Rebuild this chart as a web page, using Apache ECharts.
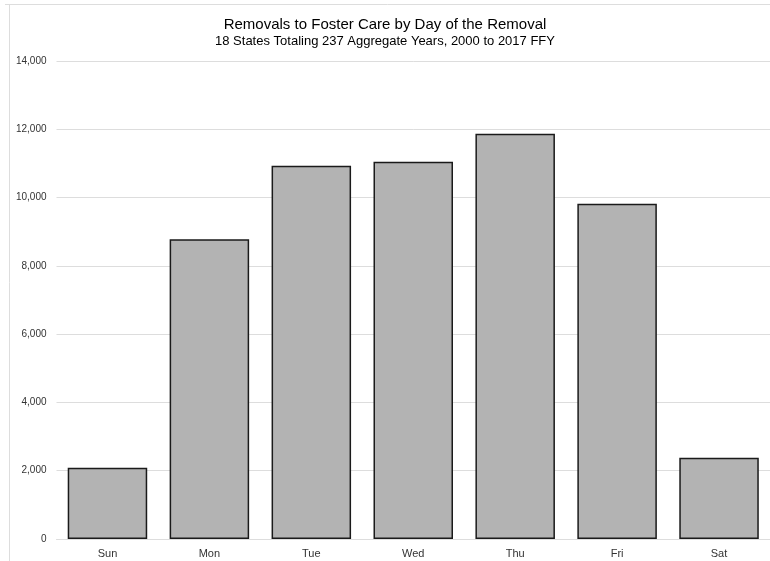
<!DOCTYPE html>
<html><head><meta charset="utf-8">
<script src="https://cdn.jsdelivr.net/npm/echarts@6/dist/echarts.min.js"></script>
<style>html,body{margin:0;padding:0;background:#fff}#c{width:770px;height:561px}</style>
</head><body><div id="c"></div>
<script>
const categories = ['Sun','Mon','Tue','Wed','Thu','Fri','Sat'];
const removals = [2090, 8780, 10930, 11050, 11870, 9820, 2380];
const titleText = 'Removals to Foster Care by Day of the Removal';
const subtitleText = '18 States Totaling 237 Aggregate Years, 2000 to 2017 FFY';

const chart = echarts.init(document.getElementById('c'));
chart.setOption({
  backgroundColor: '#fff',
  animation: false,
  title: {
    text: titleText, subtext: subtitleText, left: 'center', top: 12, itemGap: 3,
    textStyle: {fontFamily: 'Liberation Sans', fontSize: 15, fontWeight: 'normal', color: '#000'},
    subtextStyle: {fontFamily: 'Liberation Sans', fontSize: 13, color: '#000'}
  },
  graphic: [
    {type: 'line', shape: {x1: 5, y1: 4.5, x2: 770, y2: 4.5}, style: {stroke: '#ddd', lineWidth: 1}},
    {type: 'line', shape: {x1: 9.5, y1: 4, x2: 9.5, y2: 561}, style: {stroke: '#ddd', lineWidth: 1}}
  ],
  grid: {left: 56.5, right: -4.5, top: 61, bottom: 22, containLabel: false},
  xAxis: {
    type: 'category', data: categories,
    axisLine: {show: true, lineStyle: {color: '#ddd', width: 1}},
    axisTick: {show: false},
    axisLabel: {fontFamily: 'Liberation Sans', fontSize: 11, color: '#333', margin: 9}
  },
  yAxis: {
    type: 'value', min: 0, max: 14000, interval: 2000,
    axisLine: {show: false}, axisTick: {show: false},
    splitLine: {lineStyle: {color: '#ddd', width: 1}},
    axisLabel: {fontFamily: 'Liberation Sans', fontSize: 10, color: '#333', margin: 10,
      formatter: v => v.toLocaleString('en-US')}
  },
  series: [{
    type: 'bar', data: removals, barCategoryGap: '22%',
    itemStyle: {color: '#b3b3b3', borderColor: '#1a1a1a', borderWidth: 1.5}
  }]
});
</script></body></html>
